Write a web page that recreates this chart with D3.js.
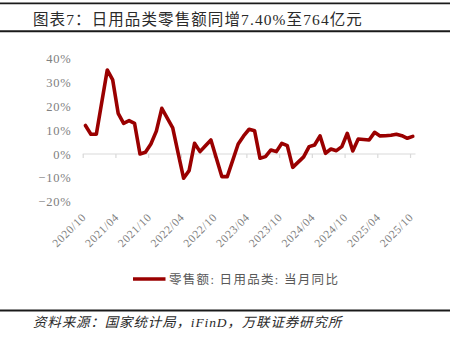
<!DOCTYPE html>
<html>
<head>
<meta charset="utf-8">
<script src="https://cdn.jsdelivr.net/npm/d3@7"></script>
<style>
  html, body { margin: 0; padding: 0; background: #fff; }
  svg { display: block; }
</style>
</head>
<body>
<svg id="chart" width="450" height="343"></svg>
<script>
// Monthly YoY growth of daily-use goods retail sales (January is reported together with February)
const months = [
  "2020/10","2020/11","2020/12",
  "2021/02","2021/03","2021/04","2021/05","2021/06","2021/07","2021/08","2021/09","2021/10","2021/11","2021/12",
  "2022/02","2022/03","2022/04","2022/05","2022/06","2022/07","2022/08","2022/09","2022/10","2022/11","2022/12",
  "2023/02","2023/03","2023/04","2023/05","2023/06","2023/07","2023/08","2023/09","2023/10","2023/11","2023/12",
  "2024/02","2024/03","2024/04","2024/05","2024/06","2024/07","2024/08","2024/09","2024/10","2024/11","2024/12",
  "2025/02","2025/03","2025/04","2025/05","2025/06","2025/07","2025/08","2025/09","2025/10"
];
const yoy = [
  12.0, 8.3, 8.3,
  35.3, 31.1, 17.1, 12.9, 14.0, 12.9, 0.0, 0.7, 4.2, 9.6, 19.2,
  11.0, 0.3, -10.2, -7.0, 4.5, 1.0, 3.5, 5.9, -1.8, -9.5, -9.5,
  4.2, 7.6, 10.4, 9.8, -1.8, -1.1, 1.7, 1.0, 4.5, 3.5, -5.6,
  -1.2, 3.1, 3.8, 7.6, 0.3, 2.1, 1.4, 3.1, 8.7, 1.3, 6.3,
  5.9, 9.1, 7.6, 7.7, 7.9, 8.3, 7.7, 6.6, 7.4
];
const tickLabels = ["2020/10","2021/04","2021/10","2022/04","2022/10","2023/04","2023/10","2024/04","2024/10","2025/04","2025/10"];
const yTicks = [-20, -10, 0, 10, 20, 30, 40];

const titleText = "图表7：日用品类零售额同增7.40%至764亿元";
const legendText = "零售额: 日用品类: 当月同比";
const sourceText = "资料来源：国家统计局，iFinD，万联证券研究所";

const lineColor = "#9a0000";
const serifNum = "'Liberation Serif', 'Times New Roman', 'Noto Sans CJK SC', serif";
const cjk = "'Liberation Serif', 'Noto Sans CJK SC', sans-serif";

// month offset from the first month on the axis
const monthIndex = s => {
  const [y, m] = s.split("/").map(Number);
  return (y - 2020) * 12 + (m - 10);
};

const svg = d3.select("#chart");

// header and footer rules
const rule = (y, w) => svg.append("line")
  .attr("x1", 0).attr("x2", 450).attr("y1", y).attr("y2", y)
  .attr("stroke", "#1a1a1a").attr("stroke-width", w);
rule(3.3, 1.8);
rule(31.2, 2);
rule(310.5, 2);

svg.append("text")
  .attr("x", 33).attr("y", 25)
  .attr("font-family", cjk).attr("font-size", 15.5)
  .attr("letter-spacing", 1.1)
  .attr("fill", "#2a2a2a")
  .text(titleText);

svg.append("text")
  .attr("x", 33).attr("y", 327)
  .attr("font-family", cjk).attr("font-size", 13.5)
  .attr("font-style", "italic")
  .attr("letter-spacing", 0.85)
  .attr("fill", "#2a2a2a")
  .text(sourceText);

// scales: each month occupies one unit, points sit at the unit centre
const x = d3.scaleLinear().domain([0, 61]).range([82.7, 415.5]);
const y = d3.scaleLinear().domain([-20, 40]).range([201.6, 58.8]);

// y axis labels
const yAxis = d3.axisLeft(y)
  .tickValues(yTicks)
  .tickSize(0)
  .tickPadding(0)
  .tickFormat(d => (d < 0 ? "\u2212" + Math.abs(d) : d) + "%");
const gy = svg.append("g").attr("transform", "translate(71.5,0)").call(yAxis);
gy.select(".domain").remove();
gy.selectAll("text")
  .attr("font-family", serifNum).attr("font-size", 12.5)
  .attr("letter-spacing", 0.8)
  .attr("fill", "#808080");

// x axis along the zero line
const xAxis = d3.axisBottom(x)
  .tickValues(tickLabels.map(monthIndex))
  .tickSize(4)
  .tickFormat("");
const gx = svg.append("g").attr("transform", `translate(0,${y(0)})`).call(xAxis);
gx.select(".domain").attr("stroke", "#d9d9d9").attr("stroke-width", 1.2).attr("d", `M${x(0)},0H${x(61)}`);
gx.selectAll(".tick line").attr("stroke", "#d9d9d9").attr("stroke-width", 1.2);

// rotated month labels below the plot
svg.append("g").selectAll("text")
  .data(tickLabels)
  .join("text")
  .attr("transform", d => `translate(${x(monthIndex(d)) + 4},218) rotate(-45)`)
  .attr("text-anchor", "end")
  .attr("font-family", serifNum).attr("font-size", 11.5)
  .attr("letter-spacing", 0.6)
  .attr("fill", "#808080")
  .text(d => d);

// the series
const line = d3.line()
  .x((d, i) => x(monthIndex(months[i]) + 0.5))
  .y(d => y(d));
svg.append("path")
  .datum(yoy)
  .attr("d", line)
  .attr("fill", "none")
  .attr("stroke", lineColor)
  .attr("stroke-width", 3.6)
  .attr("stroke-linejoin", "round")
  .attr("stroke-linecap", "round");

// legend
svg.append("line")
  .attr("x1", 133).attr("x2", 165.5).attr("y1", 279).attr("y2", 279)
  .attr("stroke", lineColor).attr("stroke-width", 3.6);
svg.append("text")
  .attr("x", 169).attr("y", 283.5)
  .attr("font-family", cjk).attr("font-size", 12.5)
  .attr("letter-spacing", 1.3)
  .attr("fill", "#595959")
  .text(legendText);
</script>
</body>
</html>
